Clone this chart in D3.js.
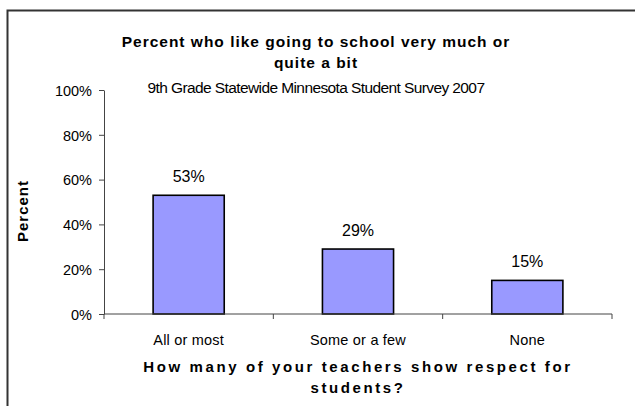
<!DOCTYPE html>
<html><head><meta charset="utf-8">
<script src="https://cdn.jsdelivr.net/npm/d3@7"></script>
<style>
html,body{margin:0;padding:0;background:#fff;overflow:hidden;}
svg{display:block;}
text{font-family:"Liberation Sans",Arial,sans-serif;fill:#000;}
</style></head>
<body>
<svg id="c" width="635" height="406"></svg>
<script>
const categories = ["All or most", "Some or a few", "None"];
const values = [53, 29, 15];
const yTicks = [0, 20, 40, 60, 80, 100];
const titleLines = ["Percent who like going to school very much or", "quite a bit"];
const subtitle = "9th Grade Statewide Minnesota Student Survey 2007";
const xTitleLines = ["How many of your teachers show respect for", "students?"];
const yTitle = "Percent";

const svg = d3.select("#c");
const m = {left:104, right:612, top:90, bottom:314};

// outer frame (clipped by the window): top and left edges
svg.append("path").attr("d","M7.5,406 V10.5 H635")
  .attr("fill","none").attr("stroke","#333").attr("stroke-width",2);

const y = d3.scaleLinear().domain([0,100]).range([m.bottom, m.top]);
const p = 0.58;
const x = d3.scaleBand().domain(categories).range([m.left, m.right])
  .paddingInner(p).paddingOuter(p/2);

// y axis
const yAxis = d3.axisLeft(y).tickValues(yTicks).tickFormat(d => d + "%").tickSize(5).tickSizeOuter(0);
const gy = svg.append("g").attr("transform",`translate(${m.left},0)`).call(yAxis);
gy.select(".domain").attr("stroke","#444").attr("stroke-width",1);
gy.selectAll(".tick line").attr("stroke","#444");
gy.selectAll(".tick text").attr("font-size",14.5).attr("x",-12).attr("dy","0.37em")
  .attr("font-family","Liberation Sans, Arial, sans-serif");

// bars
svg.append("g").selectAll("rect").data(values).join("rect")
  .attr("x",(d,i)=>x(categories[i]))
  .attr("y",d=>y(d))
  .attr("width",x.bandwidth())
  .attr("height",d=>y(0)-y(d))
  .attr("fill","#9999FF").attr("stroke","#000").attr("stroke-width",1.6);

// x axis
const gx = svg.append("g").attr("transform",`translate(0,${m.bottom})`);
gx.append("line").attr("x1",m.left).attr("x2",m.right).attr("y1",0).attr("y2",0)
  .attr("stroke","#444").attr("stroke-width",1);
const boundaries = categories.map(c => x(c) - x.step()*p/2).concat([m.right]);
gx.selectAll("line.t").data(boundaries).join("line").attr("class","t")
  .attr("x1",d=>d).attr("x2",d=>d).attr("y1",0).attr("y2",5).attr("stroke","#444");
gx.selectAll("text").data(categories).join("text")
  .attr("x",d=>x(d)+x.bandwidth()/2).attr("y",31)
  .attr("text-anchor","middle").attr("font-size",14.5).attr("letter-spacing","0.2px")
  .text(d=>d);

// value labels
svg.append("g").selectAll("text").data(values).join("text")
  .attr("x",(d,i)=>x(categories[i])+x.bandwidth()/2)
  .attr("y",d=>y(d)-13)
  .attr("text-anchor","middle").attr("font-size",16)
  .text(d=>d+"%");

// title
const cx = 316;
svg.append("g").selectAll("text").data(titleLines).join("text")
  .attr("x",cx).attr("y",(d,i)=>47+i*21)
  .attr("text-anchor","middle").attr("font-size",15.5).attr("font-weight","bold")
  .attr("letter-spacing","1px").text(d=>d);
svg.append("text").attr("x",cx).attr("y",93).attr("text-anchor","middle")
  .attr("font-size",15.5).attr("letter-spacing","-0.6px").text(subtitle);

// x title
const xc = (m.left+m.right)/2;
svg.append("g").selectAll("text").data(xTitleLines).join("text")
  .attr("x",xc).attr("y",(d,i)=>372+i*21)
  .attr("text-anchor","middle").attr("font-size",15).attr("font-weight","bold")
  .attr("letter-spacing","2.6px").text(d=>d);

// y title
svg.append("text").attr("transform","translate(28,211) rotate(-90)")
  .attr("text-anchor","middle").attr("font-size",15).attr("font-weight","bold")
  .attr("letter-spacing","1px").text(yTitle);
</script>
</body></html>
